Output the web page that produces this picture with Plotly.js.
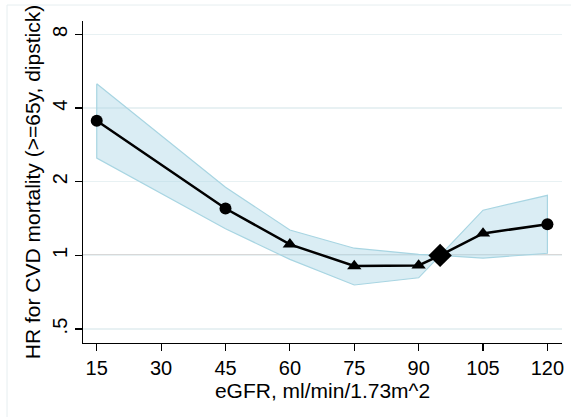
<!DOCTYPE html>
<html>
<head>
<meta charset="utf-8">
<script src="https://cdn.plot.ly/plotly-3.0.1.min.js"></script>
<style>html,body{margin:0;padding:0;background:#fff;}#chart{width:571px;height:417px;}</style>
</head>
<body>
<div id="chart"></div>
<script>
// Data
const eGFR   = [15, 45, 60, 75, 90, 95, 105, 120];
const hr     = [3.55, 1.555, 1.11, 0.905, 0.91, 1.0, 1.23, 1.34];
const lower  = [2.50, 1.285, 0.963, 0.757, 0.81, 1.0, 0.975, 1.02];
const upper  = [5.03, 1.90, 1.27, 1.07, 1.01, 1.0, 1.53, 1.76];
const pointType = ['circle', 'circle', 'triangle', 'triangle', 'triangle', 'reference', 'triangle', 'circle'];
const xTicks = [15, 30, 45, 60, 75, 90, 105, 120];
const yTicks = [0.5, 1, 2, 4, 8];
const yTickText = ['.5', '1', '2', '4', '8'];

const symbolMap = {circle: 'circle', triangle: 'triangle-up', reference: 'diamond'};
const sizeMap = {circle: 12, triangle: 12.5, reference: 18};

const bandX = eGFR.concat([eGFR[eGFR.length - 1]], eGFR.slice().reverse(), [eGFR[0]]);
const bandY = upper.concat([lower[lower.length - 1]], lower.slice().reverse(), [upper[0]]);

const band = {
  x: bandX, y: bandY, type: 'scatter', mode: 'lines',
  fill: 'toself', fillcolor: 'rgba(173,216,230,0.45)',
  line: {color: 'rgb(168,213,226)', width: 1.2},
  hoverinfo: 'skip', showlegend: false
};
const main = {
  x: eGFR, y: hr, type: 'scatter', mode: 'lines+markers',
  line: {color: '#000', width: 2.5},
  marker: {color: '#000', opacity: 1, symbol: pointType.map(t => symbolMap[t]), size: pointType.map(t => sizeMap[t]),
           line: {width: 0}},
  showlegend: false
};

const FONT = 'Liberation Sans, Arial, sans-serif';
const layout = {
  width: 571, height: 417,
  margin: {l: 83, r: 9, t: 21, b: 73.5},
  paper_bgcolor: '#fff', plot_bgcolor: '#fff',
  font: {family: FONT, color: '#000', size: 20},
  showlegend: false,
  xaxis: {
    range: [11.8, 123.4], tickvals: xTicks, ticktext: xTicks.map(String),
    showgrid: false, zeroline: false,
    showline: true, linecolor: '#000', linewidth: 1.2,
    ticks: 'outside', ticklen: 7, tickcolor: '#000', tickwidth: 1.2,
    tickfont: {size: 20, family: FONT},
    title: {text: 'eGFR, ml/min/1.73m^2', font: {size: 21, family: FONT}, standoff: 0},
    automargin: false
  },
  yaxis: {
    type: 'log', range: [-0.358, 0.958],
    tickvals: yTicks, ticktext: yTickText, tickangle: -90,
    showgrid: true, gridcolor: '#e8f1f3', gridwidth: 1.2, zeroline: false,
    showline: true, linecolor: '#000', linewidth: 1.2,
    ticks: 'outside', ticklen: 7, tickcolor: '#000', tickwidth: 1.2,
    tickfont: {size: 20, family: FONT},
    title: {text: 'HR for CVD mortality (>=65y, dipstick)', font: {size: 21, family: FONT}, standoff: 2},
    automargin: false
  },
  shapes: [
    {type: 'line', xref: 'paper', yref: 'y', x0: 0, x1: 1, y0: 1, y1: 1,
     line: {color: '#666', width: 1.2}, layer: 'below'},
    {type: 'rect', xref: 'paper', yref: 'paper',
     x0: (7 - 83) / 479, x1: (580 - 83) / 479, y0: (343.5 - 425) / 322.5, y1: (343.5 - 5) / 322.5,
     line: {color: '#e6eef0', width: 1}, layer: 'below'}
  ]
};

Plotly.newPlot('chart', [band, main], layout, {displayModeBar: false, staticPlot: true});
</script>
</body>
</html>
